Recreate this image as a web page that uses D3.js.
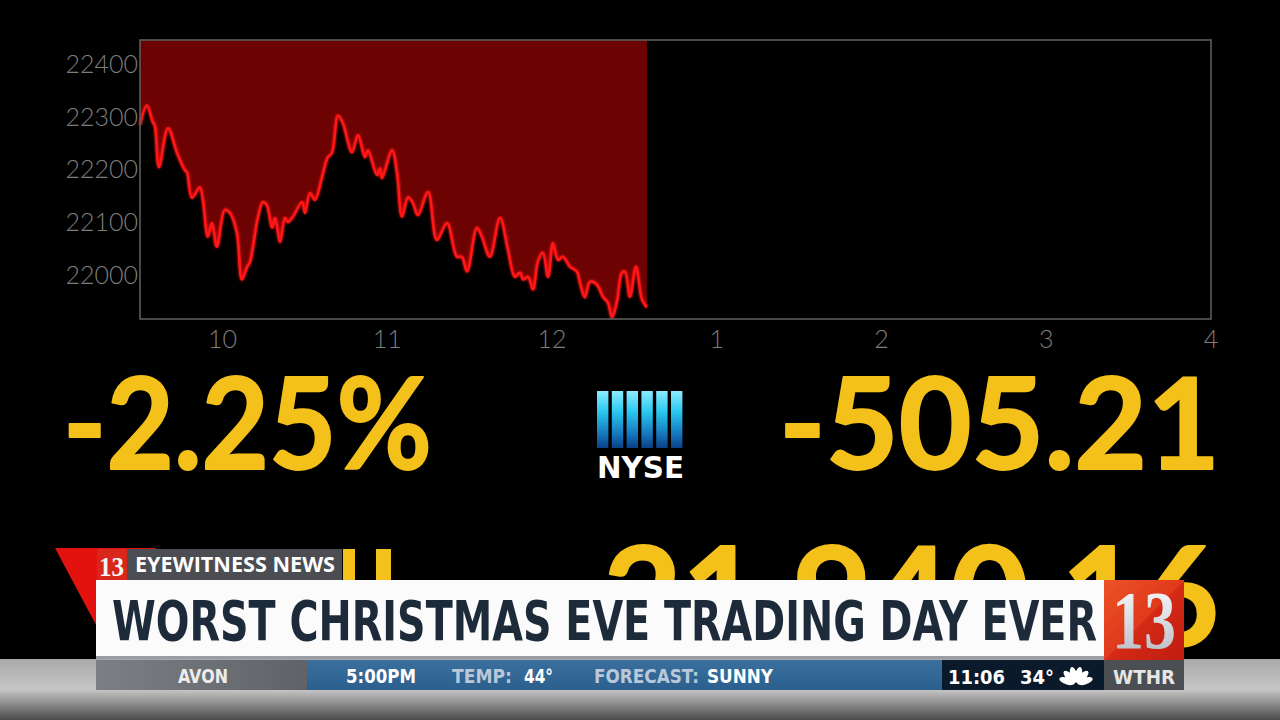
<!DOCTYPE html>
<html>
<head>
<meta charset="utf-8">
<script src="https://cdn.jsdelivr.net/npm/d3@7"></script>
<style>
  html, body { margin: 0; padding: 0; background: #000; overflow: hidden; }
</style>
</head>
<body>
<script>
// minutes after the 9:30 open, and the Dow level
const minutes = [0, 2.5, 4.7, 5.4, 6.9, 10.2, 13.5, 16.4, 17.1, 18.9, 21.8, 22.9, 24.7, 26.2, 28.0,
  30.9, 32.8, 35.3, 37.1, 39.0, 40.0, 43.0, 44.8, 46.2, 48.1, 49.2, 51.0, 52.8, 53.9, 55.7,
  59.0, 60.1, 61.9, 63.7, 66.3, 68.4, 69.9, 72.1, 73.9, 77.2, 79.4, 81.9, 83.0, 86.3, 87.4,
  88.1, 91.8, 93.6, 95.4, 97.6, 99.4, 101.2, 104.9, 108.1, 111.8, 115.4, 117.2, 119.1, 122.7,
  124.5, 127.4, 131.1, 134.0, 136.5, 138.4, 139.5, 141.3, 143.1, 144.9, 146.7, 148.6, 150.4,
  152.2, 154.0, 156.6, 159.1, 160.2, 162.0, 163.9, 166.4, 168.6, 170.4, 171.9, 173.7, 175.5,
  176.6, 178.4, 180.6, 182.8, 184.6];
const values = [22284, 22321, 22289, 22283, 22204, 22278, 22231, 22198, 22195, 22146, 22166, 22142, 22072, 22098, 22053,
  22123, 22117, 22079, 21991, 22015, 22023, 22110, 22138, 22132, 22089, 22108, 22062, 22108, 22100, 22110,
  22138, 22117, 22155, 22142, 22185, 22223, 22231, 22302, 22287, 22232, 22265, 22223, 22236, 22189, 22202,
  22183, 22236, 22193, 22110, 22147, 22136, 22113, 22157, 22066, 22098, 22034, 22034, 22006, 22089,
  22072, 22034, 22108, 22047, 21996, 22004, 21991, 21996, 21972, 22025, 22042, 21996, 22060,
  22028, 22034, 22015, 22006, 21985, 21957, 21987, 21981, 21958, 21947, 21919, 21949, 22004,
  22006, 21958, 22015, 21953, 21938];

const prevClose = 22445.37;
const yTicks = [22000, 22100, 22200, 22300, 22400];
const xTickMinutes = [30, 90, 150, 210, 270, 330, 390];
const xTickLabels = ['10', '11', '12', '1', '2', '3', '4'];

const pctChange = '-2.25%';
const ptChange = '-505.21';
const lastPrice = '21,940.16';
const headline = 'WORST CHRISTMAS EVE TRADING DAY EVER';
const tickerItems = [
  { text: '5:00PM', x: 346, w: 70, color: '#ffffff' },
  { text: 'TEMP:', x: 452, w: 60, color: '#b9c9d9' },
  { text: '44°', x: 524, w: 29, color: '#ffffff' },
  { text: 'FORECAST:', x: 594, w: 105, color: '#b9c9d9' },
  { text: 'SUNNY', x: 707, w: 66, color: '#ffffff' }
];

const data = minutes.map((m, i) => ({ m: m, v: values[i] }));

const svg = d3.select('body').append('svg')
  .attr('width', 1280)
  .attr('height', 720);

const defs = svg.append('defs');

// glow for the price line
const glow = defs.append('filter').attr('id', 'glow')
  .attr('x', '-5%').attr('y', '-5%').attr('width', '110%').attr('height', '110%');
glow.append('feGaussianBlur').attr('stdDeviation', 1.8).attr('result', 'b');
const merge = glow.append('feMerge');
merge.append('feMergeNode').attr('in', 'b');
merge.append('feMergeNode').attr('in', 'SourceGraphic');

function linGrad(id, x1, y1, x2, y2, stops) {
  const g = defs.append('linearGradient').attr('id', id)
    .attr('x1', x1).attr('y1', y1).attr('x2', x2).attr('y2', y2);
  stops.forEach(s => g.append('stop').attr('offset', s[0]).attr('stop-color', s[1]));
}
linGrad('nyseBar', 0, 0, 0, 1, [[0, '#8cecff'], [0.35, '#2ccaf0'], [0.75, '#1578c0'], [1, '#0a3f86']]);
linGrad('floor', 0, 0, 0, 1, [[0, '#a9a9a9'], [0.5, '#c6c6c6'], [1, '#4a4a4a']]);
linGrad('avon', 0, 0, 1, 0, [[0, '#7c7f84'], [1, '#5f6267']]);
linGrad('blueBar', 0, 0, 0, 1, [[0, '#3a6f9e'], [1, '#2c5f8e']]);
linGrad('redBox', 0, 0, 1, 1, [[0, '#ec5326'], [0.5, '#e0391c'], [0.51, '#d42a16'], [1, '#c01c10']]);
linGrad('silver', 0, 0, 0, 1, [[0, '#ffffff'], [0.5, '#d9dde2'], [1, '#aeb4bb']]);

svg.append('rect').attr('width', 1280).attr('height', 720).attr('fill', '#000');

// ---------- chart ----------
const x = d3.scaleLinear().domain([0, 390]).range([140, 1211]);
const y = d3.scaleLinear().domain([21916, prevClose]).range([319, 40]);

const area = d3.area()
  .x(d => x(d.m))
  .y0(y(prevClose))
  .y1(d => y(d.v))
  .curve(d3.curveCatmullRom);

const line = d3.line()
  .x(d => x(d.m))
  .y(d => y(d.v))
  .curve(d3.curveCatmullRom);

svg.append('path')
  .datum(data)
  .attr('d', area)
  .attr('fill', '#6c0202');

svg.append('path')
  .datum(data)
  .attr('d', line)
  .attr('fill', 'none')
  .attr('stroke', '#ff1414')
  .attr('stroke-width', 2.6)
  .attr('stroke-linejoin', 'round')
  .attr('filter', 'url(#glow)');

svg.append('rect')
  .attr('x', x(0)).attr('y', y.range()[1])
  .attr('width', x(390) - x(0)).attr('height', y.range()[0] - y.range()[1])
  .attr('fill', 'none')
  .attr('stroke', '#5c5c5c')
  .attr('stroke-width', 1.6);

const axisFont = "Lato, 'Open Sans', 'DejaVu Sans', sans-serif";

svg.append('g').selectAll('text')
  .data(yTicks)
  .join('text')
  .attr('x', 138)
  .attr('y', d => y(d) + 9)
  .attr('text-anchor', 'end')
  .attr('font-family', axisFont)
  .attr('font-weight', 300)
  .attr('font-size', 25)
  .attr('fill', '#7e7e7e')
  .text(d => d);

svg.append('g').selectAll('text')
  .data(xTickMinutes)
  .join('text')
  .attr('x', d => x(d))
  .attr('y', 348)
  .attr('text-anchor', 'middle')
  .attr('font-family', axisFont)
  .attr('font-weight', 300)
  .attr('font-size', 25)
  .attr('fill', '#7e7e7e')
  .text((d, i) => xTickLabels[i]);

// ---------- big numbers ----------
const bigFont = "Lato, 'Noto Sans', 'Open Sans', sans-serif";
const yellow = '#f4c01a';

function bigText(str, x0, y0, size, len) {
  svg.append('text')
    .attr('x', x0).attr('y', y0)
    .attr('font-family', bigFont).attr('font-weight', 700)
    .attr('font-size', size)
    .attr('textLength', len).attr('lengthAdjust', 'spacingAndGlyphs')
    .attr('fill', yellow)
    .attr('stroke', yellow)
    .attr('stroke-width', 2)
    .attr('stroke-linejoin', 'round')
    .text(str);
}
bigText(pctChange, 63, 469, 127, 369);
bigText(ptChange, 779, 469, 127, 441);
bigText(lastPrice, 603, 646, 137, 616);

// NYSE logo
const nyse = svg.append('g');
d3.range(6).forEach(i => {
  nyse.append('rect')
    .attr('x', 597 + i * 14.8).attr('y', 391)
    .attr('width', 11.4).attr('height', 57)
    .attr('fill', 'url(#nyseBar)');
});
nyse.append('text')
  .attr('x', 597).attr('y', 478)
  .attr('font-family', "'DejaVu Sans', 'Open Sans', sans-serif").attr('font-weight', 700)
  .attr('font-size', 30)
  .attr('textLength', 87).attr('lengthAdjust', 'spacingAndGlyphs')
  .attr('fill', '#ffffff')
  .text('NYSE');

// ---------- lower third ----------
svg.append('rect').attr('x', 0).attr('y', 659).attr('width', 1280).attr('height', 61)
  .attr('fill', 'url(#floor)');

svg.append('polygon')
  .attr('points', '55,548 156,548 112,655')
  .attr('fill', '#e3120f');

// pieces of the yellow row behind the banner
svg.append('rect').attr('x', 343).attr('y', 549).attr('width', 12).attr('height', 31).attr('fill', yellow);
svg.append('rect').attr('x', 376).attr('y', 549).attr('width', 15).attr('height', 31).attr('fill', yellow);

svg.append('rect').attr('x', 97).attr('y', 549).attr('width', 30).attr('height', 31).attr('fill', '#d9261a');
svg.append('text')
  .attr('x', 99).attr('y', 576)
  .attr('font-family', "'Liberation Serif', 'DejaVu Serif', serif").attr('font-weight', 700)
  .attr('font-size', 28)
  .attr('textLength', 25).attr('lengthAdjust', 'spacingAndGlyphs')
  .attr('fill', '#f4f4f4')
  .text('13');

svg.append('rect').attr('x', 127).attr('y', 549).attr('width', 215).attr('height', 31).attr('fill', '#4b4d52');
svg.append('text')
  .attr('x', 135).attr('y', 572)
  .attr('font-family', "'Open Sans', 'DejaVu Sans', sans-serif").attr('font-weight', 700)
  .attr('font-size', 21)
  .attr('textLength', 200).attr('lengthAdjust', 'spacingAndGlyphs')
  .attr('fill', '#ffffff')
  .text('EYEWITNESS NEWS');

svg.append('rect').attr('x', 96).attr('y', 580).attr('width', 1009).attr('height', 79).attr('fill', '#fbfbfb');
svg.append('rect').attr('x', 96).attr('y', 656).attr('width', 1009).attr('height', 3).attr('fill', '#9a9ea3');
svg.append('text')
  .attr('x', 112).attr('y', 640)
  .attr('font-family', "'Liberation Sans Narrow', 'DejaVu Sans Condensed', 'Roboto', sans-serif")
  .attr('font-weight', 700)
  .attr('font-size', 55)
  .attr('textLength', 985).attr('lengthAdjust', 'spacingAndGlyphs')
  .attr('fill', '#1c2a39')
  .text(headline);

svg.append('rect').attr('x', 1104).attr('y', 580).attr('width', 80).attr('height', 80).attr('fill', 'url(#redBox)');
svg.append('text')
  .attr('x', 1112).attr('y', 648)
  .attr('font-family', "'Liberation Serif', 'DejaVu Serif', serif").attr('font-weight', 700)
  .attr('font-size', 82)
  .attr('textLength', 64).attr('lengthAdjust', 'spacingAndGlyphs')
  .attr('fill', 'url(#silver)')
  .text('13');

// ticker
const tickFont = "'Liberation Sans Narrow', 'DejaVu Sans Condensed', 'Roboto', sans-serif";
svg.append('rect').attr('x', 96).attr('y', 660).attr('width', 211).attr('height', 30).attr('fill', 'url(#avon)');
svg.append('rect').attr('x', 307).attr('y', 660).attr('width', 635).attr('height', 30).attr('fill', 'url(#blueBar)');
svg.append('rect').attr('x', 942).attr('y', 660).attr('width', 162).attr('height', 30).attr('fill', '#0b1a2b');
svg.append('rect').attr('x', 1104).attr('y', 660).attr('width', 80).attr('height', 30).attr('fill', '#4b4e53');

svg.append('text')
  .attr('x', 178).attr('y', 683)
  .attr('font-family', tickFont).attr('font-weight', 700).attr('font-size', 20)
  .attr('textLength', 50).attr('lengthAdjust', 'spacingAndGlyphs')
  .attr('fill', '#ececec')
  .text('AVON');

svg.append('g').selectAll('text')
  .data(tickerItems)
  .join('text')
  .attr('x', d => d.x).attr('y', 683)
  .attr('font-family', tickFont).attr('font-weight', 700).attr('font-size', 20)
  .attr('textLength', d => d.w).attr('lengthAdjust', 'spacingAndGlyphs')
  .attr('fill', d => d.color)
  .text(d => d.text);

svg.append('text')
  .attr('x', 948).attr('y', 684)
  .attr('font-family', "'DejaVu Sans', sans-serif").attr('font-weight', 700).attr('font-size', 20)
  .attr('textLength', 57).attr('lengthAdjust', 'spacingAndGlyphs')
  .attr('fill', '#ffffff')
  .text('11:06');
svg.append('text')
  .attr('x', 1020).attr('y', 684)
  .attr('font-family', "'DejaVu Sans', sans-serif").attr('font-weight', 700).attr('font-size', 20)
  .attr('textLength', 34).attr('lengthAdjust', 'spacingAndGlyphs')
  .attr('fill', '#ffffff')
  .text('34°');

// NBC peacock
const peacock = svg.append('g').attr('transform', 'translate(1076,684)');
d3.range(6).forEach(i => {
  const a = -72 + i * 28.8;
  peacock.append('ellipse')
    .attr('cx', 0).attr('cy', -9.5)
    .attr('rx', 3.4).attr('ry', 8)
    .attr('transform', `rotate(${a})`)
    .attr('fill', '#ffffff');
});

svg.append('text')
  .attr('x', 1113).attr('y', 684)
  .attr('font-family', "'DejaVu Sans', sans-serif").attr('font-weight', 700).attr('font-size', 20)
  .attr('textLength', 62).attr('lengthAdjust', 'spacingAndGlyphs')
  .attr('fill', '#e6e6e6')
  .text('WTHR');
</script>
</body>
</html>
